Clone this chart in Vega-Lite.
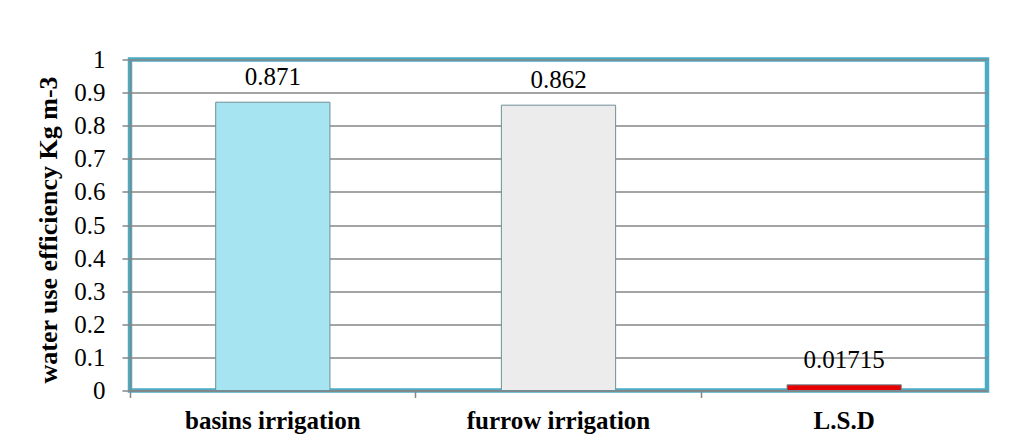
{
  "$schema": "https://vega.github.io/schema/vega-lite/v6.json",
  "autosize": {"type": "none"},
  "width": 857,
  "height": 331,
  "padding": {"left": 130, "top": 59.5, "right": 31, "bottom": 53.5},
  "background": "white",
  "config": {
    "font": "Liberation Serif",
    "view": {"stroke": "#4BACC6", "strokeWidth": 4.5},
    "axis": {"labelFont": "Liberation Serif", "titleFont": "Liberation Serif", "labelColor": "#000000", "titleColor": "#000000"}
  },
  "data": {
    "values": [
      {"treatment": "basins irrigation", "wue": 0.871, "label": "0.871"},
      {"treatment": "furrow irrigation", "wue": 0.862, "label": "0.862"},
      {"treatment": "L.S.D", "wue": 0.01715, "label": "0.01715"}
    ]
  },
  "encoding": {
    "x": {
      "field": "treatment",
      "type": "nominal",
      "sort": ["basins irrigation", "furrow irrigation", "L.S.D"],
      "scale": {"paddingInner": 0, "paddingOuter": 0},
      "axis": {
        "title": null,
        "labelAngle": 0,
        "labelFontSize": 25,
        "labelFontWeight": "bold",
        "labelPadding": 11,
        "labelLimit": 0,
        "tickSize": 7,
        "tickColor": "#868686",
        "tickWidth": 1.5,
        "bandPosition": 0,
        "domainColor": "#868686",
        "domainWidth": 1.5
      }
    },
    "y": {
      "field": "wue",
      "type": "quantitative",
      "scale": {"domain": [0, 1], "nice": false},
      "axis": {
        "title": "water use efficiency Kg m-3",
        "titleFontSize": 26,
        "titleFontWeight": "bold",
        "titleX": -74,
        "titleY": 170,
        "titleBaseline": "alphabetic",
        "values": [0, 0.1, 0.2, 0.3, 0.4, 0.5, 0.6, 0.7, 0.8, 0.9, 1],
        "format": "~g",
        "labelFontSize": 25,
        "labelPadding": 17,
        "tickSize": 8,
        "tickColor": "#868686",
        "tickWidth": 1.5,
        "grid": true,
        "gridColor": "#868686",
        "gridWidth": 1.5,
        "domainColor": "#868686",
        "domainWidth": 1.5
      }
    }
  },
  "layer": [
    {
      "mark": {"type": "bar", "width": {"band": 0.4}, "stroke": "#6f8f96", "strokeWidth": 1},
      "encoding": {
        "color": {
          "field": "treatment",
          "type": "nominal",
          "scale": {"domain": ["basins irrigation", "furrow irrigation", "L.S.D"], "range": ["#a6e4f2", "#ececec", "#e60000"]},
          "legend": null
        }
      }
    },
    {
      "mark": {"type": "text", "baseline": "alphabetic", "dy": -17, "fontSize": 25, "font": "Liberation Serif", "color": "#000000"},
      "encoding": {"text": {"field": "label"}}
    }
  ]
}
